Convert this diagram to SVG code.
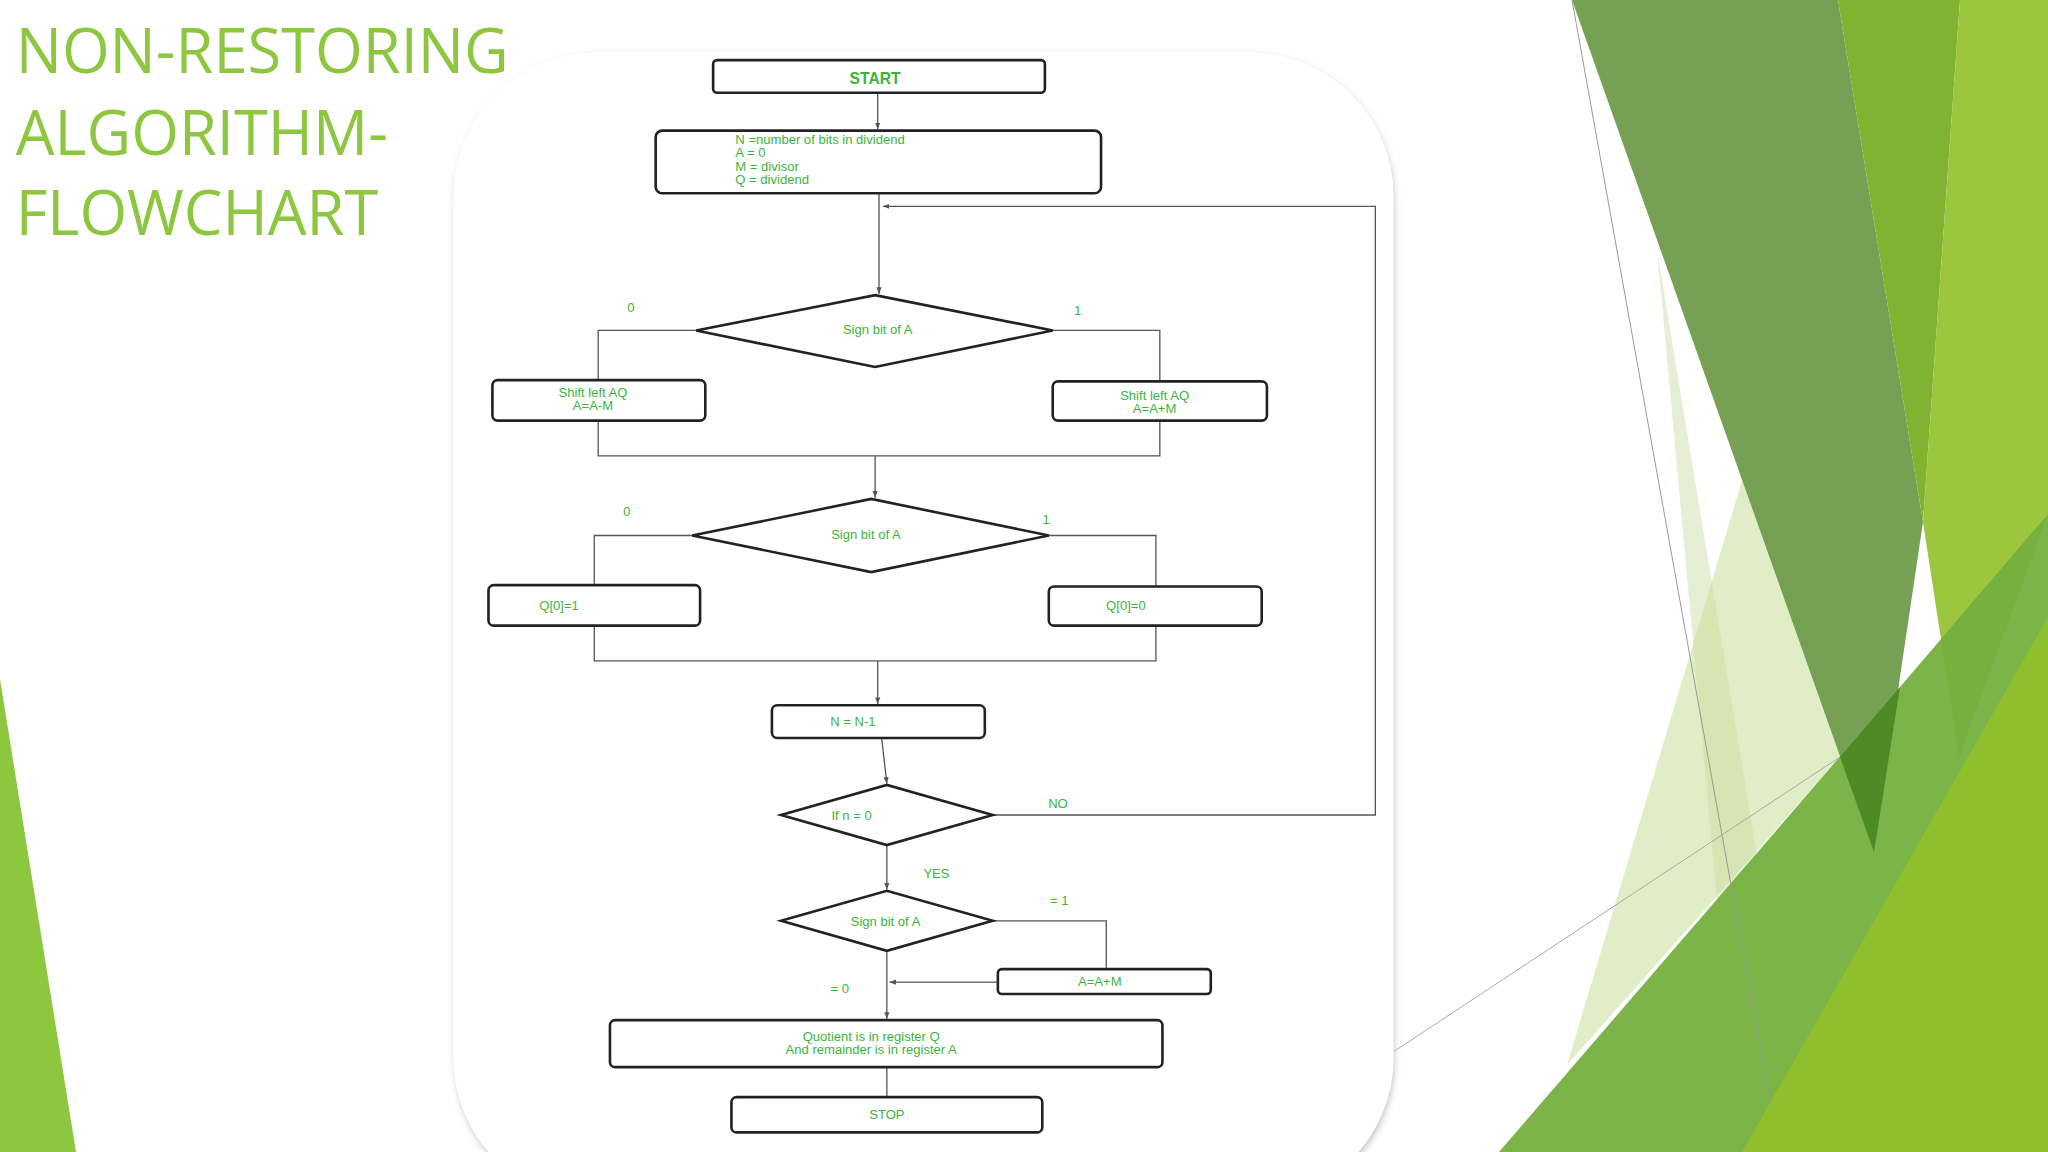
<svg xmlns="http://www.w3.org/2000/svg" width="2048" height="1152" viewBox="0 0 2048 1152">
<defs>
<style>
.box{fill:#fff;stroke:#222;stroke-width:2}
.dia{fill:#fff;stroke:#222;stroke-width:2}
.ln{fill:none;stroke:#555;stroke-width:1}
.t{font-family:"Liberation Sans",Arial,sans-serif;font-size:10px;fill:#3cb43c;text-anchor:middle}
.tl{font-family:"Liberation Sans",Arial,sans-serif;font-size:10px;fill:#3cb43c}
.title{font-family:"Open Sans","Liberation Sans",sans-serif;font-size:47px;fill:#8dc63f}
</style>
<marker id="ar" markerWidth="6" markerHeight="6" refX="5" refY="3" orient="auto"><path d="M0,1 L5,3 L0,5 z" fill="#555"/></marker>
<filter id="sh" x="-5%" y="-5%" width="110%" height="110%"><feGaussianBlur stdDeviation="3"/></filter>
</defs>
<rect width="2048" height="1152" fill="#fff"/>
<g id="background">
<polygon points="0,679 0,1152 76,1152" fill="#8dc63f"/>
<polygon points="1657,250 1806,1152 1740,1152" fill="#e6efd6"/>
<polygon points="1853,110 1567,1065 1840,757" fill="#c8df98" opacity="0.55"/>
<polygon points="1572,0 1838,0 1923,522 1874,852" fill="#6f9c4c" opacity="0.95"/>
<polygon points="1838,0 1960,0 1923,522" fill="#80b332"/>
<polygon points="1960,0 2048,0 2048,514 1959,757 1923,522" fill="#9bc63e"/>
<polygon points="1499,1152 1900,687 2048,514 2048,1152" fill="#74b03f" opacity="0.95"/>
<polygon points="1840,757 1900,687 1874,852" fill="#4e8a25"/>
<polygon points="1742,1152 2048,617 2048,1152" fill="#8fbf2d"/>
<line x1="1572" y1="0" x2="1770" y2="1102" stroke="#999" stroke-width="1"/>
<line x1="1384" y1="1058" x2="1840" y2="757" stroke="#aaa" stroke-width="1"/>
</g>
<g transform="scale(1.30612)">
<text class="title" x="12" y="56">NON-RESTORING</text>
<text class="title" x="12" y="119">ALGORITHM-</text>
<text class="title" x="12" y="180">FLOWCHART</text>
<rect x="349" y="43" width="718" height="880" rx="110" fill="#bbb" filter="url(#sh)"/>
<rect x="347" y="40" width="720" height="880" rx="110" fill="#fff"/>
<g id="connectors">
<line class="ln" x1="672" y1="71" x2="672" y2="99" marker-end="url(#ar)"/>
<line class="ln" x1="673" y1="148" x2="673" y2="225" marker-end="url(#ar)"/>
<polyline class="ln" points="760,624 1053,624 1053,158 676,158" marker-end="url(#ar)"/>
<polyline class="ln" points="533,253 458,253 458,291"/>
<polyline class="ln" points="806,253 888,253 888,292"/>
<polyline class="ln" points="458,322 458,349 888,349 888,322"/>
<line class="ln" x1="670" y1="349" x2="670" y2="381" marker-end="url(#ar)"/>
<polyline class="ln" points="530,410 455,410 455,448"/>
<polyline class="ln" points="803,410 885,410 885,449"/>
<polyline class="ln" points="455,479 455,506 885,506 885,479"/>
<line class="ln" x1="672" y1="506" x2="672" y2="539" marker-end="url(#ar)"/>
<line class="ln" x1="675" y1="565" x2="679" y2="600" marker-end="url(#ar)"/>
<line class="ln" x1="679" y1="647" x2="679" y2="681" marker-end="url(#ar)"/>
<polyline class="ln" points="760,705 847,705 847,742"/>
<line class="ln" x1="764" y1="752" x2="681" y2="752" marker-end="url(#ar)"/>
<line class="ln" x1="679" y1="728" x2="679" y2="780" marker-end="url(#ar)"/>
<line class="ln" x1="679" y1="817" x2="679" y2="840"/>
</g>
<g id="start"><rect class="box" x="546" y="46" width="254" height="25" rx="3"/><text class="t" x="670" y="64" style="font-weight:bold;font-size:12px">START</text></g>
<g id="init"><rect class="box" x="502" y="100" width="341" height="48" rx="5"/>
<text class="tl" x="563" y="110">N  =number of bits in dividend</text>
<text class="tl" x="563" y="120">A  = 0</text>
<text class="tl" x="563" y="131">M = divisor</text>
<text class="tl" x="563" y="141">Q = dividend</text></g>
<g id="dec1"><polygon class="dia" points="533,253 670,226 806,253 670,281"/><text class="t" x="672" y="256">Sign bit of A</text></g>
<text class="t" x="483" y="239">0</text><text class="t" x="825" y="241">1</text>
<g id="sub"><rect class="box" x="377" y="291" width="163" height="31" rx="4"/><text class="t" x="454" y="304">Shift left AQ</text><text class="t" x="454" y="314">A=A-M</text></g>
<g id="add"><rect class="box" x="806" y="292" width="164" height="30" rx="4"/><text class="t" x="884" y="306">Shift left AQ</text><text class="t" x="884" y="316">A=A+M</text></g>
<g id="dec2"><polygon class="dia" points="530,410 667,382 803,410 667,438"/><text class="t" x="663" y="413">Sign bit of A</text></g>
<text class="t" x="480" y="395">0</text><text class="t" x="801" y="401">1</text>
<g id="q1"><rect class="box" x="374" y="448" width="162" height="31" rx="4"/><text class="t" x="428" y="467">Q[0]=1</text></g>
<g id="q0"><rect class="box" x="803" y="449" width="163" height="30" rx="4"/><text class="t" x="862" y="467">Q[0]=0</text></g>
<g id="dec"><rect class="box" x="591" y="540" width="163" height="25" rx="4"/><text class="t" x="653" y="556">N = N-1</text></g>
<g id="check"><polygon class="dia" points="598,624 679,601 760,624 679,647"/><text class="t" x="652" y="628">If n = 0</text></g>
<text class="t" x="810" y="619">NO</text><text class="t" x="717" y="672">YES</text>
<g id="dec3"><polygon class="dia" points="598,705 679,682 760,705 679,728"/><text class="t" x="678" y="709">Sign bit of A</text></g>
<text class="t" x="811" y="693">= 1</text><text class="t" x="643" y="760">= 0</text>
<g id="restore"><rect class="box" x="764" y="742" width="163" height="19" rx="3"/><text class="t" x="842" y="755">A=A+M</text></g>
<g id="result"><rect class="box" x="467" y="781" width="423" height="36" rx="4"/><text class="t" x="667" y="797">Quotient is in register Q</text><text class="t" x="667" y="807">And remainder is in register A</text></g>
<g id="stop"><rect class="box" x="560" y="840" width="238" height="27" rx="4"/><text class="t" x="679" y="857">STOP</text></g>
</g>
</svg>
